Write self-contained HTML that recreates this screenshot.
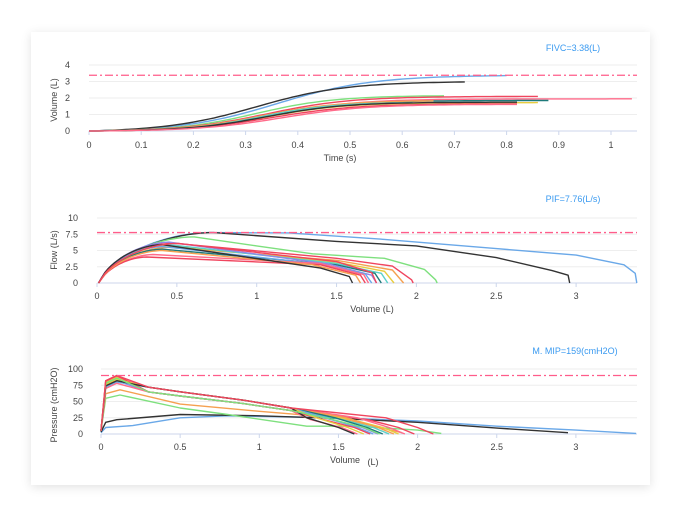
<!DOCTYPE html>
<html><head><meta charset="utf-8"><style>
body{margin:0;background:#fff;width:680px;height:520px;overflow:hidden;font-family:"Liberation Sans",sans-serif}
.card{position:absolute;left:31px;top:32px;width:619px;height:453px;background:#fff;box-shadow:0 2px 10px rgba(0,0,0,0.12);}
#chart{position:absolute;left:0;top:0}
text{font-family:"Liberation Sans",sans-serif;font-size:9px;fill:#444}
</style></head><body>
<div class="card"></div>
<svg id="chart" width="680" height="520" xmlns="http://www.w3.org/2000/svg"></svg>
<script>
var H = '';
function ln(x1,y1,x2,y2,c,w,d){H+='<line x1="'+x1+'" y1="'+y1+'" x2="'+x2+'" y2="'+y2+'" stroke="'+c+'" stroke-width="'+(w||1)+'"'+(d?' stroke-dasharray="'+d+'"':'')+'/>';}
function tx(x,y,t,a,c,sz,extra){H+='<text x="'+x+'" y="'+y+'" text-anchor="'+(a||'middle')+'"'+(c?' style="fill:'+c+';font-size:'+(sz||9)+'px"':'')+' '+(extra||'')+'>'+t+'</text>';}
function pl(pts,c){var s=[];for(var i=0;i<pts.length;i++){s.push(pts[i][0].toFixed(1)+','+pts[i][1].toFixed(1));}H+='<polyline fill="none" stroke="'+c+'" stroke-width="1.4" stroke-linejoin="round" points="'+s.join(' ')+'"/>';}
var C={red:'#f0455e',pink:'#ff6b8a',green:'#7ee07e',yel:'#e8cc40',org:'#f5a050',teal:'#5cd0c8',dt:'#1e7a7a',blue:'#6aa8e8',pur:'#8f86e8',blk:'#333333'};
var dash='8,3,2,3';
try{
(function(){
var X=function(v){return 89+v*522;},Y=function(v){return 131-v*16.5;};
var i;
for(i=0;i<=4;i++){ln(89,Y(i),637,Y(i),'#eeeeee');tx(70,Y(i)+3,i,'end');}
ln(89,131,637,131,'#ccd6eb');
for(i=0;i<=10;i++){ln(X(i/10),131,X(i/10),135,'#ccd6eb');tx(X(i/10),148,i==10?'1':(i==0?'0':(i/10).toFixed(1)));}
tx(340,161,'Time (s)');tx(0,0,'Volume (L)','middle',null,null,'transform="translate(57,100) rotate(-90)"');
tx(573,51,'FIVC=3.38(L)','middle','#3a9af0',9);
var cs=[[3.38,0.80,C.blue,0.36,0.18],[3.0,0.72,C.blk,0.32,0.17],[2.15,0.68,C.green,0.32,0.15],[2.1,0.86,C.red,0.34,0.16],[1.95,1.04,C.pink,0.35,0.16],[1.85,0.88,C.dt,0.34,0.15],[1.72,0.86,C.yel,0.34,0.15],[1.65,0.82,C.red,0.35,0.16],[1.85,0.66,C.org,0.33,0.15],[1.75,0.62,C.teal,0.33,0.14],[1.75,0.82,C.blk,0.34,0.15],[1.62,0.82,C.pink,0.37,0.16]];
for(var k=0;k<cs.length;k++){var F=cs[k][0],e=cs[k][1],c=cs[k][2],m=cs[k][3],sg=cs[k][4];var p=[];var off=F*0.5*(1+Math.tanh(-m/sg));
for(var t=0;t<=e+1e-9;t+=0.01){var v=F*0.5*(1+Math.tanh((t-m)/sg))-off*(1-t/e);if(v<0)v=0;p.push([X(t),Y(v)]);}pl(p,c);}
ln(89,Y(3.38),637,Y(3.38),'#ff5c8a',1.3,dash);
})();
}catch(err){}
try{
(function(){
var X=function(v){return 97+v*159.7;},Y=function(v){return 283-v*6.5;};
var i,labs=['0','2.5','5','7.5','10'];
for(i=0;i<=4;i++){ln(97,Y(i*2.5),637,Y(i*2.5),'#eeeeee');tx(78,Y(i*2.5)+3,labs[i],'end');}
ln(97,283,637,283,'#ccd6eb');
for(i=0;i<=6;i++){ln(X(i/2),283,X(i/2),287,'#ccd6eb');tx(X(i/2),299,String(i/2));}
tx(372,312,'Volume (L)');tx(0,0,'Flow (L/s)','middle',null,null,'transform="translate(57,250) rotate(-90)"');
tx(573,202,'PIF=7.76(L/s)','middle','#3a9af0',9);
var fc=[[3.38,7.76,0.7,[[1.2,7.7],[1.8,6.7],[2.5,5.3],[3.0,4.3],[3.3,2.8],[3.37,1.5]],C.blue],
[2.96,7.76,0.72,[[1.5,6.4],[2.0,5.7],[2.5,3.9],[2.85,1.9],[2.95,1.2]],C.blk],
[2.13,7.1,0.6,[[1.0,5.7],[1.35,4.5],[1.8,3.8],[2.05,2.1],[2.12,0.5]],C.green],
[1.98,6.2,0.45,[[1.5,3.8],[1.85,2.6],[1.97,0.5]],C.red],[1.92,5.5,0.45,[[1.5,3.5],[1.85,2.0]],C.org],
[1.86,5.8,0.45,[[1.5,3.2],[1.8,1.8]],C.yel],[1.82,5.9,0.45,[[1.5,3.0],[1.78,1.5]],C.teal],[1.78,5.2,0.4,[[1.5,2.8],[1.74,1.5]],C.dt],
[1.75,6.3,0.45,[[1.45,2.9],[1.72,1.2]],C.pur],[1.72,5.6,0.4,[[1.4,2.9],[1.68,1.4]],C.blue],[1.7,4.4,0.35,[[1.4,3.0],[1.67,1.3]],C.pink],
[1.68,4.0,0.3,[[1.4,2.8],[1.65,1.2]],C.red],[1.65,5.0,0.4,[[1.35,2.8],[1.62,1.2]],C.org],[1.6,5.9,0.4,[[1.4,2.3],[1.58,1.0]],C.blk],[1.75,6.1,0.5,[[1.5,3.3],[1.72,1.6]],C.red]];
for(var k=0;k<fc.length;k++){var E=fc[k][0],pk=fc[k][1],pv=fc[k][2],mid=fc[k][3],c=fc[k][4];
var p=[[X(0.01),Y(0)]];
for(var v=0.01;v<=pv;v+=0.02){var r=Math.min(1,v/pv);p.push([X(v+0.02),Y(pk*Math.pow(Math.sin(Math.PI/2*r),0.6))]);}
for(var j=0;j<mid.length;j++)p.push([X(mid[j][0]),Y(mid[j][1])]);
p.push([X(E),Y(0)]);pl(p,c);}
ln(97,Y(7.76),637,Y(7.76),'#ff5c8a',1.3,dash);
})();
}catch(err){}
try{
(function(){
var X=function(v){return 101+v*158.3;},Y=function(v){return 434-v*0.65;};
var i;
for(i=0;i<=4;i++){ln(101,Y(i*25),637,Y(i*25),'#eeeeee');tx(83,Y(i*25)+3,String(i*25),'end');}
ln(101,434,637,434,'#ccd6eb');
for(i=0;i<=6;i++){ln(X(i/2),434,X(i/2),438,'#ccd6eb');tx(X(i/2),450,String(i/2));}
tx(345,463,'Volume');tx(373,465,'(L)');tx(0,0,'Pressure (cmH2O)','middle',null,null,'transform="translate(57,405) rotate(-90)"');
tx(575,354,'M. MIP=159(cmH2O)','middle','#3a9af0',9);
var pc=[[[[0,2],[0.03,10],[0.2,13],[0.5,25],[0.8,28],[1.5,25],[2.0,20],[2.5,12],[3.0,6],[3.38,1]],C.blue],
[[[0,3],[0.03,18],[0.1,22],[0.5,30],[1.0,28],[1.5,24],[2.0,18],[2.5,9],[2.95,2]],C.blk],
[[[0,5],[0.03,55],[0.12,60],[0.5,40],[0.8,30],[1.3,12],[1.6,12],[2.0,6],[2.15,1]],C.green],
[[[0,5],[0.03,62],[0.12,68],[0.5,46],[1.0,35],[1.5,25],[1.9,2]],C.org]];
var base=[[1.98,C.red,88],[1.92,C.pink,86],[1.88,C.yel,87],[1.85,C.org,84],[1.82,C.teal,85],[1.78,C.dt,83],[1.75,C.pur,82],[1.72,C.blue,80],[1.7,C.red,90],[1.66,C.yel,84],[1.62,C.pink,78],[1.6,C.blk,82],[1.76,C.green,86],[2.1,C.red,90]];
for(var k=0;k<base.length;k++){var E=base[k][0],pk=base[k][2],f=0.9+0.2*((k*7)%base.length)/base.length;
pc.push([[[0,5],[0.03,pk-8],[0.1,pk],[0.3,72*f],[0.5,65*f],[0.9,52*f],[1.2,40*f],[E-0.3,25*f],[E-0.1,10],[E,0]],base[k][1]]);}
for(var q=0;q<pc.length;q++){var pts=pc[q][0],o=[];for(var j=0;j<pts.length;j++)o.push([X(pts[j][0]),Y(pts[j][1])]);pl(o,pc[q][1]);}
ln(101,Y(90),637,Y(90),'#ff5c8a',1.3,dash);
})();
}catch(err){}
document.getElementById('chart').innerHTML=H;
</script>
</body></html>
